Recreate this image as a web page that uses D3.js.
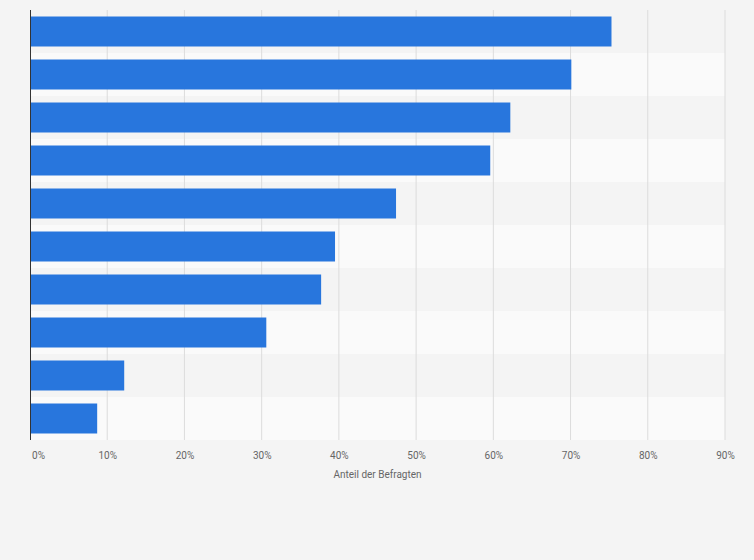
<!DOCTYPE html><html><head><meta charset="utf-8">
<script src="https://cdn.jsdelivr.net/npm/d3@7"></script>
<style>body{margin:0;background:#f4f4f4}svg{display:block}</style></head><body>
<script>
const categories=["A","B","C","D","E","F","G","H","I","J"];
const values=[75.3,70.1,62.2,59.6,47.4,39.5,37.7,30.6,12.2,8.7];
const ticks=[0,10,20,30,40,50,60,70,80,90];
const W=754,H=560,m={l:30,r:29,t:10,b:120};
const svg=d3.select("body").append("svg").attr("width",W).attr("height",H);
svg.append("rect").attr("width",W).attr("height",H).attr("fill","#f4f4f4");
const x=d3.scaleLinear().domain([0,90]).range([m.l,W-m.r]);
const y=d3.scaleBand().domain(categories).range([m.t,H-m.b]).paddingInner(0).paddingOuter(0);
svg.selectAll(".band").data(categories).enter().append("rect")
 .attr("x",m.l).attr("width",x(90)-m.l).attr("y",d=>y(d)).attr("height",y.bandwidth())
 .attr("fill",(d,i)=>i%2?"#fafafa":"#f4f4f4");
svg.selectAll(".g").data(ticks.slice(1)).enter().append("line")
 .attr("x1",d=>x(d)).attr("x2",d=>x(d)).attr("y1",m.t).attr("y2",H-m.b)
 .attr("stroke","#dcdcdc").attr("stroke-width",1);
const bh=30;
svg.selectAll(".bar").data(values).enter().append("rect")
 .attr("x",x(0)).attr("y",(d,i)=>y(categories[i])+(y.bandwidth()-bh)/2)
 .attr("width",d=>x(d)-x(0)).attr("height",bh).attr("fill","#2876dd");
svg.append("line").attr("x1",m.l+0.5).attr("x2",m.l+0.5).attr("y1",m.t).attr("y2",H-m.b).attr("stroke","#333");
const ax=svg.append("g").attr("transform",`translate(0,${H-m.b})`)
 .call(d3.axisBottom(x).tickValues(ticks).tickFormat(d=>d+"%").tickSize(0).tickPadding(12));
ax.select(".domain").remove();
ax.selectAll("text").attr("font-family","Roboto, Arial, sans-serif").attr("font-size",10).attr("fill","#666")
 .attr("text-anchor",(d,i)=>"middle").attr("dx",(d)=>d===0?8:0);
svg.append("text").attr("x",(x(0)+x(90))/2).attr("y",478).attr("text-anchor","middle")
 .attr("font-family","Roboto, Arial, sans-serif").attr("font-size",10).attr("fill","#666").text("Anteil der Befragten");
</script></body></html>
